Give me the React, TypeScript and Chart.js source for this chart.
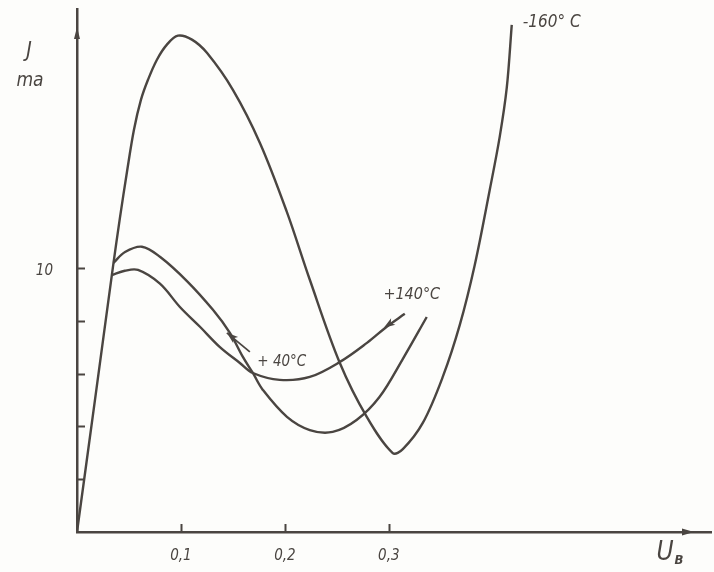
import React, { useEffect, useRef } from "react";
import { Chart, registerables } from "chart.js";

Chart.register(...registerables);

// ---- Data (U in volts, J in mA) ----
const voltM160 = [0, 0.0173, 0.0346, 0.0413, 0.0481, 0.0548, 0.0615, 0.0683, 0.0769, 0.0865, 0.0971, 0.1106, 0.125, 0.15, 0.176, 0.2019, 0.224, 0.2529, 0.2788, 0.3038, 0.3135, 0.3327, 0.3519, 0.3683, 0.3827, 0.3971, 0.4067, 0.4135, 0.4183];
const currM160 = [0, 5.0, 10.04, 11.89, 13.64, 15.23, 16.36, 17.12, 17.88, 18.45, 18.79, 18.64, 18.14, 16.74, 14.73, 12.12, 9.55, 6.4, 4.36, 2.99, 3.14, 4.13, 5.87, 7.84, 10.11, 12.95, 14.96, 16.82, 19.2];

const voltP40 = [0.0351, 0.0462, 0.0625, 0.0798, 0.1058, 0.1308, 0.1471, 0.1596, 0.1692, 0.1788, 0.202, 0.224, 0.246, 0.269, 0.291, 0.313, 0.3365];
const currP40 = [10.19, 10.6, 10.8, 10.42, 9.5, 8.41, 7.54, 6.63, 6.02, 5.38, 4.36, 3.86, 3.79, 4.24, 5.11, 6.52, 8.14];

const voltP140 = [0.0337, 0.046, 0.0587, 0.0798, 0.099, 0.1183, 0.1375, 0.1567, 0.1692, 0.195, 0.224, 0.253, 0.279, 0.298, 0.3154];
const currP140 = [9.73, 9.89, 9.92, 9.4, 8.52, 7.77, 7.0, 6.4, 6.02, 5.76, 5.87, 6.44, 7.16, 7.77, 8.26];

const xTickValues = [0.1, 0.2, 0.3];
const xTickLabels = ["0,1", "0,2", "0,3"];
const yTickValues = [2, 4, 6, 8, 10];
const yTickLabels = ["", "", "", "", "10"];

const seriesNames = ["-160° C", "+40°C", "+140°C"];

// curve labels anchored in data coordinates
const curveLabels = [
  { text: "-160° C", x: 0.4288, y: 19.28, align: "left", size: 17 },
  { text: "+140°C", x: 0.3221, y: 8.98, align: "center", size: 16 },
  { text: "+ 40°C", x: 0.197, y: 6.44, align: "center", size: 15 },
];
// arrows: tail / tip in data coordinates
const arrows = [
  { tail: [0.1663, 6.82], tip: [0.1442, 7.54], line: true },
  { tail: [0.3154, 8.26], tip: [0.2952, 7.73], line: false },
];

const INK = "#4a4541";
const FONT = "'DejaVu Sans Condensed', 'DejaVu Sans', sans-serif";

const toPoints = (xs: number[], ys: number[]) => xs.map((v, i) => ({ x: v, y: ys[i] }));

const decorPlugin = {
  id: "decor",
  beforeDraw(chart: any) {
    const { ctx, width, height } = chart;
    ctx.save();
    ctx.fillStyle = "#fdfdfb";
    ctx.fillRect(0, 0, width, height);
    ctx.restore();
  },
  afterDraw(chart: any) {
    const { ctx, chartArea } = chart;
    const xs = chart.scales.x;
    const ys = chart.scales.y;
    ctx.save();
    ctx.strokeStyle = INK;
    ctx.fillStyle = INK;
    ctx.lineWidth = 2;
    ctx.lineCap = "butt";
    // inward tick marks
    yTickValues.forEach((v) => {
      const py = Math.round(ys.getPixelForValue(v)) + 0.5;
      ctx.beginPath();
      ctx.moveTo(chartArea.left, py);
      ctx.lineTo(chartArea.left + 8, py);
      ctx.stroke();
    });
    xTickValues.forEach((v) => {
      const px = Math.round(xs.getPixelForValue(v)) + 0.5;
      ctx.beginPath();
      ctx.moveTo(px, chartArea.bottom);
      ctx.lineTo(px, chartArea.bottom - 8);
      ctx.stroke();
    });
    // axis arrowheads
    const ax = chartArea.left;
    const ayTip = chartArea.top + 18;
    ctx.beginPath();
    ctx.moveTo(ax, ayTip);
    ctx.lineTo(ax - 3, ayTip + 12);
    ctx.lineTo(ax + 3, ayTip + 12);
    ctx.closePath();
    ctx.fill();
    const bx = chartArea.right - 17;
    const by = chartArea.bottom;
    ctx.beginPath();
    ctx.moveTo(bx, by);
    ctx.lineTo(bx - 12, by - 3.5);
    ctx.lineTo(bx - 12, by + 3.5);
    ctx.closePath();
    ctx.fill();

    // curve arrows
    arrows.forEach((a) => {
      const tx = xs.getPixelForValue(a.tail[0]);
      const ty = ys.getPixelForValue(a.tail[1]);
      const hx = xs.getPixelForValue(a.tip[0]);
      const hy = ys.getPixelForValue(a.tip[1]);
      const ang = Math.atan2(hy - ty, hx - tx);
      ctx.lineWidth = 1.8;
      if (a.line) {
        ctx.beginPath();
        ctx.moveTo(tx, ty);
        ctx.lineTo(hx, hy);
        ctx.stroke();
      }
      const L = 12;
      const W = 0.33;
      ctx.beginPath();
      ctx.moveTo(hx, hy);
      ctx.lineTo(hx - L * Math.cos(ang - W), hy - L * Math.sin(ang - W));
      ctx.lineTo(hx - L * 0.7 * Math.cos(ang), hy - L * 0.7 * Math.sin(ang));
      ctx.lineTo(hx - L * Math.cos(ang + W), hy - L * Math.sin(ang + W));
      ctx.closePath();
      ctx.fill();
    });

    // curve labels
    ctx.textBaseline = "middle";
    curveLabels.forEach((l) => {
      ctx.font = `italic ${l.size}px ${FONT}`;
      ctx.textAlign = l.align as CanvasTextAlign;
      ctx.fillText(l.text, xs.getPixelForValue(l.x), ys.getPixelForValue(l.y));
    });

    // axis titles
    ctx.textAlign = "center";
    ctx.font = `italic 21px ${FONT}`;
    ctx.fillText("J", chartArea.left - 48, chartArea.top + 43);
    ctx.font = `italic 19px ${FONT}`;
    ctx.fillText("ma", chartArea.left - 47, chartArea.top + 72);
    ctx.font = `italic 26px ${FONT}`;
    ctx.fillText("U", chartArea.right - 46, chartArea.bottom + 21);
    ctx.font = `italic bold 13px ${FONT}`;
    ctx.fillText("B", chartArea.right - 32, chartArea.bottom + 29);
    ctx.restore();
  },
};

export default function App() {
  const canvasRef = useRef<HTMLCanvasElement | null>(null);

  useEffect(() => {
    if (!canvasRef.current) return;
    const lineStyle = {
      borderColor: INK,
      borderWidth: 2.4,
      pointRadius: 0,
      fill: false,
      tension: 0.35,
    };
    const chart = new Chart(canvasRef.current, {
      type: "line",
      data: {
        datasets: [
          { label: seriesNames[0], data: toPoints(voltM160, currM160), ...lineStyle },
          { label: seriesNames[1], data: toPoints(voltP40, currP40), ...lineStyle },
          { label: seriesNames[2], data: toPoints(voltP140, currP140), ...lineStyle },
        ],
      },
      options: {
        animation: false,
        responsive: false,
        devicePixelRatio: 1,
        layout: { padding: { top: 9, right: 3, left: 0, bottom: 0 } },
        plugins: { legend: { display: false }, tooltip: { enabled: false } },
        scales: {
          x: {
            type: "linear",
            min: 0,
            max: 0.61,
            grid: { display: false, drawTicks: false },
            border: { display: true, color: INK, width: 2.5 },
            afterBuildTicks: (s: any) => {
              s.ticks = xTickValues.map((v) => ({ value: v }));
            },
            afterFit: (s: any) => {
              s.height = 40;
              s.paddingLeft = 0;
              s.paddingRight = 0;
              s.paddingTop = 0;
              s.paddingBottom = 0;
            },
            ticks: {
              autoSkip: false,
              maxRotation: 0,
              padding: 15,
              color: INK,
              font: { family: FONT, size: 15, style: "italic" },
              callback: (_v: any, i: number) => xTickLabels[i],
            },
          },
          y: {
            type: "linear",
            min: 0,
            max: 19.8,
            grid: { display: false, drawTicks: false },
            border: { display: true, color: INK, width: 2.5 },
            afterBuildTicks: (s: any) => {
              s.ticks = yTickValues.map((v) => ({ value: v }));
            },
            afterFit: (s: any) => {
              s.width = 77;
              s.paddingLeft = 0;
              s.paddingRight = 0;
              s.paddingTop = 0;
              s.paddingBottom = 0;
            },
            ticks: {
              autoSkip: false,
              padding: 24,
              labelOffset: 3,
              color: INK,
              font: { family: FONT, size: 15, style: "italic" },
              callback: (_v: any, i: number) => yTickLabels[i],
            },
          },
        },
      },
      plugins: [decorPlugin],
    });
    return () => chart.destroy();
  }, []);

  return (
    <div style={{ position: "fixed", left: 0, top: 0, width: 714, height: 572, background: "#fdfdfb" }}>
      <canvas ref={canvasRef} width={714} height={572} style={{ display: "block" }} />
    </div>
  );
}
